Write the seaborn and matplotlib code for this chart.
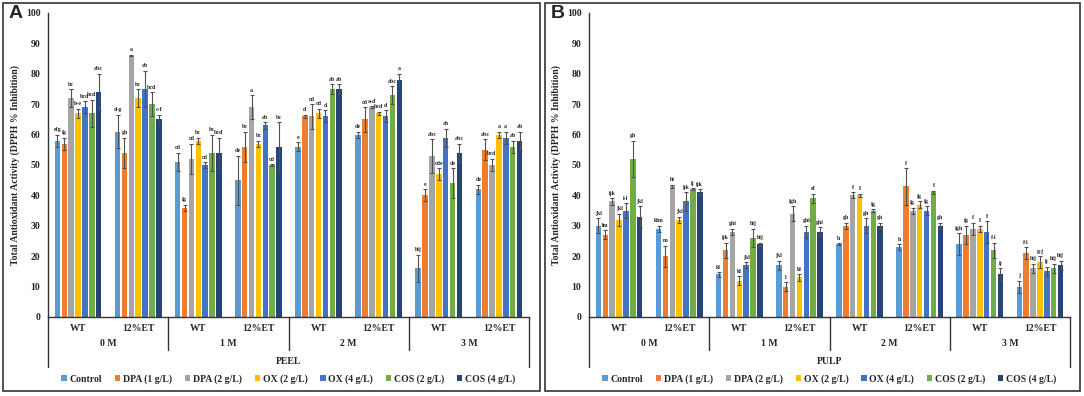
import numpy as np
import pandas as pd
import matplotlib
matplotlib.use("Agg")
import matplotlib.pyplot as plt
import seaborn as sns
from matplotlib.patches import Rectangle

# ---------------- data ----------------
treatments = ["Control", "DPA (1 g/L)", "DPA (2 g/L)", "OX (2 g/L)",
              "OX (4 g/L)", "COS (2 g/L)", "COS (4 g/L)"]
colors = ["#5B9BD5", "#ED7D31", "#A5A5A5", "#FFC000", "#4472C4", "#70AD47", "#264478"]
months = ["0 M", "1 M", "2 M", "3 M"]
conditions = ["WT", "12%ET"]

# one row per (month, condition) group, columns follow `treatments`
peel_mean = [
    [58, 57, 72, 67, 69, 67, 74],
    [61, 54, 86, 72, 75, 70, 65],
    [51, 36, 52, 58, 50, 54, 54],
    [45, 56, 69, 57, 63, 50, 56],
    [56, 66, 66, 67, 66, 75, 75],
    [60, 65, 69, 67, 66, 73, 78],
    [16, 40, 53, 47, 59, 44, 54],
    [42, 55, 50, 60, 59, 56, 58],
]
peel_sd = [
    [2, 2, 3, 1.5, 2, 4.5, 6],
    [5.5, 5, 0.3, 3, 6, 4, 1.5],
    [3, 1, 5, 1, 1, 6, 5],
    [8, 5, 4, 1, 1, 0.3, 8],
    [1.5, 0.5, 4, 1.5, 2, 1.5, 1.5],
    [1, 4, 0.3, 0.5, 2, 3, 2],
    [4.5, 2, 5.5, 2, 3, 5, 3],
    [1.5, 3.5, 2, 1, 2, 2, 3],
]
peel_letters = [
    ["efg", "fg", "bc", "b-e", "bcd", "bcd", "abc"],
    ["d-g", "gh", "a", "bc", "ab", "bcd", "c-f"],
    ["cd", "fg", "cd", "bc", "cd", "bc", "bcd"],
    ["de", "bc", "a", "bc", "ab", "cd", "bc"],
    ["e", "d", "cd", "cd", "d", "ab", "ab"],
    ["de", "cd", "a-d", "bcd", "d", "abc", "a"],
    ["hij", "e", "abc", "cde", "ab", "de", "abc"],
    ["de", "abc", "bcd", "a", "a", "ab", "ab"],
]
pulp_mean = [
    [30, 27, 38, 32, 35, 52, 33],
    [29, 20, 43, 32, 38, 42, 41],
    [14, 22, 28, 12, 17, 26, 24],
    [17, 10, 34, 13, 28, 39, 28],
    [24, 30, 40, 40, 30, 35, 30],
    [23, 43, 35, 37, 35, 41, 30],
    [24, 27, 29, 29, 28, 22, 14],
    [10, 21, 16, 18, 15, 16, 17],
]
pulp_sd = [
    [2.5, 1.5, 1, 2, 2.5, 6, 3.5],
    [1, 3.5, 0.5, 1, 3, 0.3, 1],
    [0.8, 2.5, 1, 1.5, 1, 3, 0.5],
    [1.5, 1.5, 2.5, 1, 2, 1.5, 1.5],
    [0.2, 1, 1, 0.5, 2.5, 0.5, 1],
    [1, 6, 1, 1, 1.5, 0.5, 1],
    [3.5, 3, 2, 1, 3.5, 2.5, 2],
    [2, 2, 1.5, 2, 1.5, 1.5, 1.5],
]
pulp_letters = [
    ["jkl", "lm", "ijk", "jkl", "i-l", "gh", "jkl"],
    ["klm", "m", "hi", "jkl", "ijk", "ij", "ijk"],
    ["kl", "ijk", "ghi", "kl", "jkl", "hij", "hij"],
    ["jkl", "l", "fgh", "kl", "ghi", "ef", "ghi"],
    ["h", "gh", "f", "f", "gh", "fg", "gh"],
    ["h", "f", "fg", "fg", "fg", "f", "gh"],
    ["fgh", "fg", "f", "f", "f", "f-i", "ij"],
    ["j", "f-i", "hij", "g-j", "ij", "hij", "hij"],
]
yticks = list(range(0, 101, 10))

# ---------------- style ----------------
sns.set_theme(style="white")
plt.rcParams["font.family"] = ["Liberation Serif", "DejaVu Serif"]
plt.rcParams["font.weight"] = "bold"

W, H = 1084, 396
fig = plt.figure(figsize=(W / 100, H / 100), dpi=100)

groups = [f"{m}|{c}" for m in months for c in conditions]


def make_df(mean, sd, letters):
    rows = []
    for gi, g in enumerate(groups):
        for ti, t in enumerate(treatments):
            rows.append(dict(group=g, treatment=t, value=mean[gi][ti],
                             sd=sd[gi][ti], letter=letters[gi][ti]))
    return pd.DataFrame(rows)


def px_to_ax(ypx, top=13, bottom=317):
    return -(ypx - bottom) / (bottom - top)


def draw_panel(left_px, mean, sd, letters, tissue, panel_letter, box):
    ax = fig.add_axes([left_px / W, 1 - 317 / H, 481 / W, 304 / H])
    df = make_df(mean, sd, letters)
    sns.barplot(data=df, x="group", y="value", hue="treatment", order=groups,
                hue_order=treatments, palette=colors, errorbar=None,
                width=0.8, gap=0.2, saturation=1, ax=ax, legend=True,
                linewidth=0, edgecolor="none")
    bar_containers = list(ax.containers)
    # error bars and significance letters
    for ti, cont in enumerate(bar_containers):
        t = treatments[ti]
        sub = df[df.treatment == t].set_index("group").loc[groups]
        xs = [p.get_x() + p.get_width() / 2 for p in cont.patches]
        hs = [p.get_height() for p in cont.patches]
        ax.errorbar(xs, hs, yerr=sub["sd"].values, fmt="none",
                    ecolor="#505050", elinewidth=0.8, capsize=1.6, capthick=0.8,
                    zorder=3)
        for x, h, e, lab in zip(xs, hs, sub["sd"].values, sub["letter"].values):
            ax.text(x, h + e + 0.8, lab, ha="center", va="bottom",
                    fontsize=4.2, fontweight="bold", color="#222222")
    ax.set_ylim(0, 100)
    ax.set_xlim(-0.5, len(groups) - 0.5)
    ax.set_yticks(yticks)
    ax.set_yticklabels([str(v) for v in yticks], fontsize=7, fontweight="bold")
    ax.set_xticks(range(len(groups)))
    ax.set_xticklabels([g.split("|")[1] for g in groups], fontsize=7,
                       fontweight="bold")
    ax.tick_params(axis="both", length=0)
    ax.tick_params(axis="x", pad=5)
    ax.tick_params(axis="y", pad=5.5)
    ax.set_xlabel("")
    ax.set_ylabel("Total Antioxidant Activity (DPPH % Inhibition)", fontsize=7,
                  fontweight="bold", labelpad=4)
    for s in ["top", "right"]:
        ax.spines[s].set_visible(False)
    for s in ["left", "bottom"]:
        ax.spines[s].set_color("#333333")
        ax.spines[s].set_linewidth(1.0)
    trans = ax.get_xaxis_transform()
    # month labels and separators
    for mi, m in enumerate(months):
        ax.text(2 * mi + 0.5, px_to_ax(344), m, transform=trans, ha="center",
                va="center", fontsize=7, fontweight="bold")
    for xb in [1.5, 3.5, 5.5]:
        ax.plot([xb, xb], [0, px_to_ax(350)], transform=trans, color="#333333",
                lw=1.0, clip_on=False)
    for xb in [-0.5, len(groups) - 0.5]:
        ax.plot([xb, xb], [0, px_to_ax(367)], transform=trans, color="#333333",
                lw=1.0, clip_on=False)
    ax.text(0.5, px_to_ax(362), tissue, transform=ax.transAxes, ha="center",
            va="center", fontsize=7, fontweight="bold")
    # legend
    leg = ax.legend(loc="center", bbox_to_anchor=(0.5, px_to_ax(379)), ncol=7,
                    frameon=False, fontsize=7, handlelength=0.55,
                    handleheight=0.55, handletextpad=0.3, columnspacing=1.3,
                    borderaxespad=0)
    for txt in leg.get_texts():
        txt.set_fontweight("bold")
    # panel box and letter
    x0, y0, x1, y1 = box
    fig.patches.append(Rectangle((x0 / W, 1 - y1 / H), (x1 - x0) / W,
                                 (y1 - y0) / H, transform=fig.transFigure,
                                 fill=False, edgecolor="#333333", lw=1.2))
    fig.text((x0 + 13) / W, 1 - 14 / H, panel_letter, ha="center", va="center",
             fontsize=14, fontweight="bold", family="Liberation Sans")
    return ax


draw_panel(48, peel_mean, peel_sd, peel_letters, "PEEL", "A", (3, 3, 540, 391))
draw_panel(589, pulp_mean, pulp_sd, pulp_letters, "PULP", "B", (545, 3, 1080, 391))

fig.savefig("out.png", dpi=100)
